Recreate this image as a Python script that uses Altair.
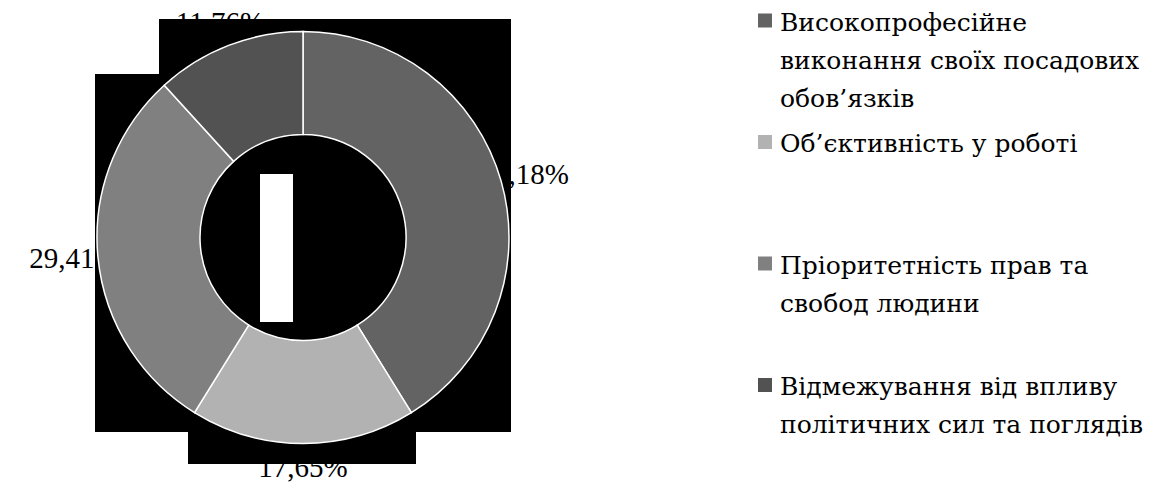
import altair as alt
import pandas as pd

categories = [
    "Високопрофесійне виконання своїх посадових обов’язків",
    "Об’єктивність у роботі",
    "Пріоритетність прав та свобод людини",
    "Відмежування від впливу політичних сил та поглядів",
]
legend_labels = [
    "Високопрофесійне\nвиконання своїх посадових\nобов’язків",
    "Об’єктивність у роботі",
    "Пріоритетність прав та\nсвобод людини",
    "Відмежування від впливу\nполітичних сил та поглядів",
]
values = [41.18, 17.65, 29.41, 11.76]
colors = ["#636363", "#b2b2b2", "#808080", "#525252"]

pct = [f"{v:.2f}".replace(".", ",") + "%" for v in values]
df = pd.DataFrame({
    "category": categories,
    "legend": legend_labels,
    "value": values,
    "pct": pct,
    "idx": list(range(len(values))),
})

W, H = 1138, 479
CX, CY = 295, 229.5
FONT = "Liberation Serif, Times New Roman, serif"
LFONT = "DejaVu Serif"

color = alt.Color("category:N", scale=alt.Scale(domain=categories, range=colors), legend=None)
theta = alt.Theta("value:Q", stack=True)
order = alt.Order("idx:Q")

labels = alt.Chart(df).mark_text(
    radius=230, fontSize=29, font=FONT, color="black"
).encode(theta=theta, order=order, text="pct:N", x=alt.value(CX), y=alt.value(CY))


def box(x1, y1, x2, y2, fill="black"):
    return alt.Chart(pd.DataFrame({"k": [0]})).mark_rect(color=fill).encode(
        x=alt.value(x1 - 8), x2=alt.value(x2 - 8), y=alt.value(y1 - 8), y2=alt.value(y2 - 8)
    )


boxA = box(159, 19, 511, 432)
boxB = box(95, 74, 511, 432)
boxC = box(188, 432, 416, 464)
white = box(260, 174, 293, 322, fill="white")

donut = alt.Chart(df).mark_arc(
    outerRadius=206, innerRadius=103, stroke="white", strokeWidth=1.5
).encode(theta=theta, order=order, color=color, x=alt.value(CX), y=alt.value(CY))

ly = alt.Y(
    "category:N",
    sort=categories,
    scale=alt.Scale(type="point", domain=categories, range=[12.5, 377], padding=0),
    axis=None,
)
leg_sq = alt.Chart(df).mark_square(size=196, opacity=1).encode(
    x=alt.value(757), y=ly, color=color
)
leg_tx = alt.Chart(df).mark_text(
    align="left", baseline="alphabetic", dy=10, fontSize=25, font=LFONT,
    lineBreak="\n", lineHeight=38, color="black"
).encode(x=alt.value(772), y=ly, text="legend:N")

chart = alt.layer(labels, boxA, boxB, boxC, donut, white, leg_sq, leg_tx).properties(
    width=W, height=H, autosize=alt.AutoSizeParams(type="none"), padding=0,
    background="white"
).configure_view(stroke=None)

chart.save("out.html", embed_options={"renderer": "svg", "actions": False})
